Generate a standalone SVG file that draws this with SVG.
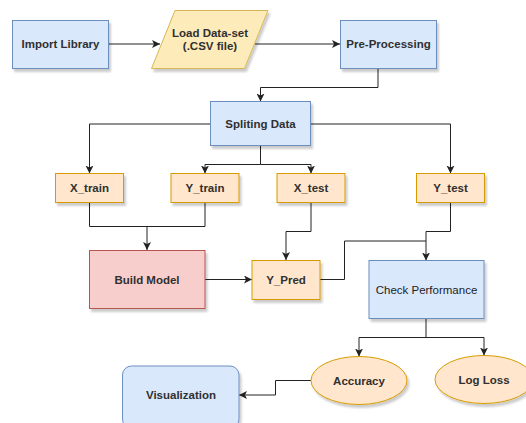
<svg xmlns="http://www.w3.org/2000/svg" width="526" height="423" viewBox="0 0 526 423">
  <style>
    .lbl { font-family: "Liberation Sans", Arial, sans-serif; font-size: 11.5px; font-weight: bold; fill: #303030; text-anchor: middle; }
    .reg { font-weight: normal; fill: #222; }
    .blue { fill: #dae8fc; stroke: #6c8ebf; stroke-width: 1; }
    .yellow { fill: #fdecb9; stroke: #d6b656; stroke-width: 1; }
    .orange { fill: #ffe6cc; stroke: #d79b00; stroke-width: 1; }
    .red { fill: #f8cecc; stroke: #b85450; stroke-width: 1; }
    .edge { fill: none; stroke: #222; stroke-width: 1; }
  </style>
  <defs>
    <filter id="shadow" x="-10%" y="-10%" width="130%" height="140%">
      <feDropShadow dx="2" dy="3" stdDeviation="1.2" flood-color="#000" flood-opacity="0.2"/>
    </filter>
    <marker id="arrow" markerUnits="userSpaceOnUse" markerWidth="10" markerHeight="10" refX="8" refY="4" orient="auto">
      <path d="M0,0 L8,4 L0,8 L2,4 Z" fill="#222"/>
    </marker>
  </defs>
  <rect width="526" height="423" fill="#fff"/>

  <g id="connectors">
    <path class="edge" d="M108.5,44 H160" marker-end="url(#arrow)"/>
    <path class="edge" d="M254.5,44 H340" marker-end="url(#arrow)"/>
    <path class="edge" d="M378,68.5 V87.5 H260.5 V101.5" marker-end="url(#arrow)"/>
    <path class="edge" d="M210.5,124 H89.5 V173.5" marker-end="url(#arrow)"/>
    <path class="edge" d="M260.5,145.5 V164.5 H205 V173.5" marker-end="url(#arrow)"/>
    <path class="edge" d="M260.5,164.5 H311 V173.5" marker-end="url(#arrow)"/>
    <path class="edge" d="M310.5,124 H450.5 V173.5" marker-end="url(#arrow)"/>
    <path class="edge" d="M89.5,202.5 V226.5 H205 V202.5"/>
    <path class="edge" d="M147,226.5 V250" marker-end="url(#arrow)"/>
    <path class="edge" d="M205,279.5 H252" marker-end="url(#arrow)"/>
    <path class="edge" d="M311,202.5 V231.5 H286 V260" marker-end="url(#arrow)"/>
    <path class="edge" d="M450.5,202.5 V231.5 H426 V260.5" marker-end="url(#arrow)"/>
    <path class="edge" d="M320,279.5 H344.5 V241 H426"/>
    <path class="edge" d="M426,318.5 V337.5 H359 V356.5" marker-end="url(#arrow)"/>
    <path class="edge" d="M426,337.5 H484 V355.5" marker-end="url(#arrow)"/>
    <path class="edge" d="M311,380.5 H275.5 V395 H239" marker-end="url(#arrow)"/>
  </g>

  <g id="import-library">
    <rect class="blue" x="12.5" y="20.5" width="96" height="48" filter="url(#shadow)"/>
    <text class="lbl" x="60.5" y="48">Import Library</text>
  </g>

  <g id="load-dataset">
    <polygon class="yellow" points="175,10.5 268,10.5 244.5,68.5 151.5,68.5" filter="url(#shadow)"/>
    <text class="lbl" x="210" y="37">Load Data-set</text>
    <text class="lbl" x="210" y="50">(.CSV file)</text>
  </g>

  <g id="pre-processing">
    <rect class="blue" x="340.5" y="20.5" width="96" height="48" filter="url(#shadow)"/>
    <text class="lbl" x="388.5" y="48">Pre-Processing</text>
  </g>

  <g id="spliting-data">
    <rect class="blue" x="210.5" y="101.5" width="100" height="44" filter="url(#shadow)"/>
    <text class="lbl" x="260.5" y="127.5">Spliting Data</text>
  </g>

  <g id="x-train">
    <rect class="orange" x="55.5" y="173.5" width="68" height="29" filter="url(#shadow)"/>
    <text class="lbl" x="89.5" y="192">X_train</text>
  </g>

  <g id="y-train">
    <rect class="orange" x="171" y="173.5" width="68" height="29" filter="url(#shadow)"/>
    <text class="lbl" x="205" y="192">Y_train</text>
  </g>

  <g id="x-test">
    <rect class="orange" x="277" y="173.5" width="68" height="29" filter="url(#shadow)"/>
    <text class="lbl" x="311" y="192">X_test</text>
  </g>

  <g id="y-test">
    <rect class="orange" x="416.5" y="173.5" width="68" height="29" filter="url(#shadow)"/>
    <text class="lbl" x="450.5" y="192">Y_test</text>
  </g>

  <g id="build-model">
    <rect class="red" x="89.5" y="250.5" width="115.5" height="58" filter="url(#shadow)"/>
    <text class="lbl" x="147" y="283.5">Build Model</text>
  </g>

  <g id="y-pred">
    <rect class="orange" x="252" y="260.5" width="68" height="39" filter="url(#shadow)"/>
    <text class="lbl" x="286" y="284">Y_Pred</text>
  </g>

  <g id="check-performance">
    <rect class="blue" x="369" y="260.5" width="115" height="58" filter="url(#shadow)"/>
    <text class="lbl reg" x="426.5" y="293.5">Check Performance</text>
  </g>

  <g id="accuracy">
    <ellipse class="orange" cx="359" cy="380.5" rx="48" ry="24" filter="url(#shadow)"/>
    <text class="lbl" x="359" y="384.5">Accuracy</text>
  </g>

  <g id="log-loss">
    <ellipse class="orange" cx="484" cy="379.5" rx="49" ry="24" filter="url(#shadow)"/>
    <text class="lbl" x="484" y="383.5">Log Loss</text>
  </g>

  <g id="visualization">
    <rect class="blue" x="122.5" y="366" width="116.5" height="62" rx="9" filter="url(#shadow)"/>
    <text class="lbl" x="181" y="399">Visualization</text>
  </g>
</svg>
